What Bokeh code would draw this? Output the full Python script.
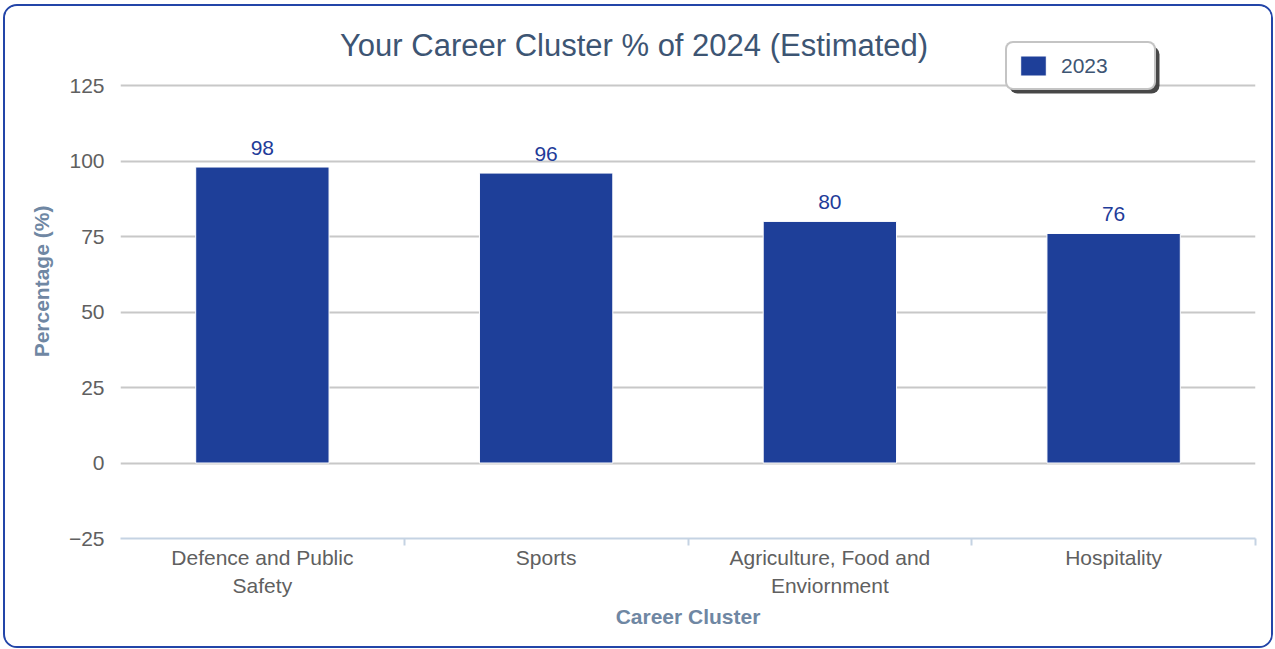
from bokeh.plotting import figure
from bokeh.models import (ColumnDataSource, Range1d, FixedTicker, BoxAnnotation,
                          LabelSet, Label, Legend, LegendItem)
from bokeh.core.properties import value
from bokeh.embed import file_html
from bokeh.resources import INLINE

categories = ["Defence and Public\nSafety", "Sports",
              "Agriculture, Food and\nEnviornment", "Hospitality"]
values_2023 = [98, 96, 80, 76]
series_name = "2023"
y_ticks = [-25, 0, 25, 50, 75, 100, 125]
title_text = "Your Career Cluster % of 2024 (Estimated)"

FONT = "Liberation Sans"
n = len(categories)
centers = [i + 0.5 for i in range(n)]
src = ColumnDataSource(dict(x=centers, val=values_2023,
                            lab=[str(v) for v in values_2023]))

p = figure(x_range=Range1d(0, n), y_range=Range1d(-25, 145.2),
           width=1270, height=644, output_backend="svg", toolbar_location=None,
           min_border_left=115, min_border_right=20, min_border_top=18,
           min_border_bottom=112)
p.title = None
p.outline_line_color = None
p.styles = {"margin-left": "3px", "margin-top": "4px",
            "border": "2px solid #2345a8", "border-radius": "14px",
            "overflow": "hidden"}

r = p.vbar(x="x", top="val", bottom=0, width=0.47, source=src,
           fill_color="#1e3f99", line_color="white", line_width=1)

# y axis
p.yaxis.ticker = FixedTicker(ticks=y_ticks)
p.yaxis.axis_line_color = None
p.yaxis.major_tick_line_color = None
p.yaxis.major_tick_out = 0
p.yaxis.minor_tick_line_color = None
p.yaxis.major_label_text_font = FONT
p.yaxis.major_label_text_font_size = "21px"
p.yaxis.major_label_text_color = "#606060"
p.yaxis.major_label_standoff = 16
p.yaxis.axis_label = "Percentage (%)"
p.yaxis.axis_label_text_font = FONT
p.yaxis.axis_label_text_font_size = "21px"
p.yaxis.axis_label_text_font_style = "bold"
p.yaxis.axis_label_text_color = "#6f87a3"
p.yaxis.axis_label_standoff = 13

p.ygrid.ticker = FixedTicker(ticks=y_ticks)
p.ygrid.grid_line_color = "#c8c8c8"
p.ygrid.grid_line_width = 2
p.xgrid.grid_line_color = None

# x axis: labels at category centres, small ticks at category boundaries
xa = p.xaxis[0]
xa.ticker = FixedTicker(ticks=centers, minor_ticks=list(range(1, n + 1)))
xa.major_label_overrides = {c: lab for c, lab in zip(centers, categories)}
xa.axis_line_color = "#c5d3e3"
xa.axis_line_width = 2
xa.major_tick_line_color = None
xa.major_tick_out = 0
xa.major_tick_in = 0
xa.minor_tick_line_color = "#c5d3e3"
xa.minor_tick_line_width = 2
xa.minor_tick_in = 0
xa.minor_tick_out = 7
xa.major_label_standoff = 0
xa.major_label_text_font = FONT
xa.major_label_text_font_size = "21px"
xa.major_label_text_line_height = 1.25
xa.major_label_text_color = "#606060"
xa.axis_label = "Career Cluster"
xa.axis_label_text_font = FONT
xa.axis_label_text_font_size = "21px"
xa.axis_label_text_font_style = "bold"
xa.axis_label_text_color = "#6f87a3"
xa.axis_label_standoff = 5

# value labels
labels = LabelSet(x="x", y="val", text="lab", source=src, y_offset=12,
                  text_align="center", text_baseline="bottom",
                  text_font=value(FONT), text_font_size="21px",
                  text_color="#1f3c99")
p.add_layout(labels)

# title
title = Label(x=n * 0.4525, y=138.2, text=title_text, text_align="center",
              text_baseline="middle", text_font=FONT, text_font_size="31px",
              text_color="#3d5573")
p.add_layout(title)

# legend shadow (decoration behind the legend box)
shadow = BoxAnnotation(left=1002, right=1152, top=38, bottom=85,
                       left_units="canvas", right_units="canvas",
                       top_units="canvas", bottom_units="canvas",
                       fill_color="#333333", fill_alpha=0.9,
                       line_color=None)
if "border_radius" in BoxAnnotation.properties():
    shadow.border_radius = 8
p.add_layout(shadow)

# legend
legend = Legend(items=[LegendItem(label=series_name, renderers=[r])],
                location=(885, 448), orientation="vertical",
                glyph_width=32, glyph_height=25, label_text_font=FONT,
                label_text_font_size="21px", label_text_color="#3d5573",
                border_line_color="#8a8a8a", border_line_width=2,
                background_fill_alpha=1, padding=10, margin=0,
                label_standoff=12, label_width=83)
if "border_radius" in Legend.properties():
    legend.border_radius = 8
p.add_layout(legend)

open("out.html", "w").write(file_html(p, INLINE))
